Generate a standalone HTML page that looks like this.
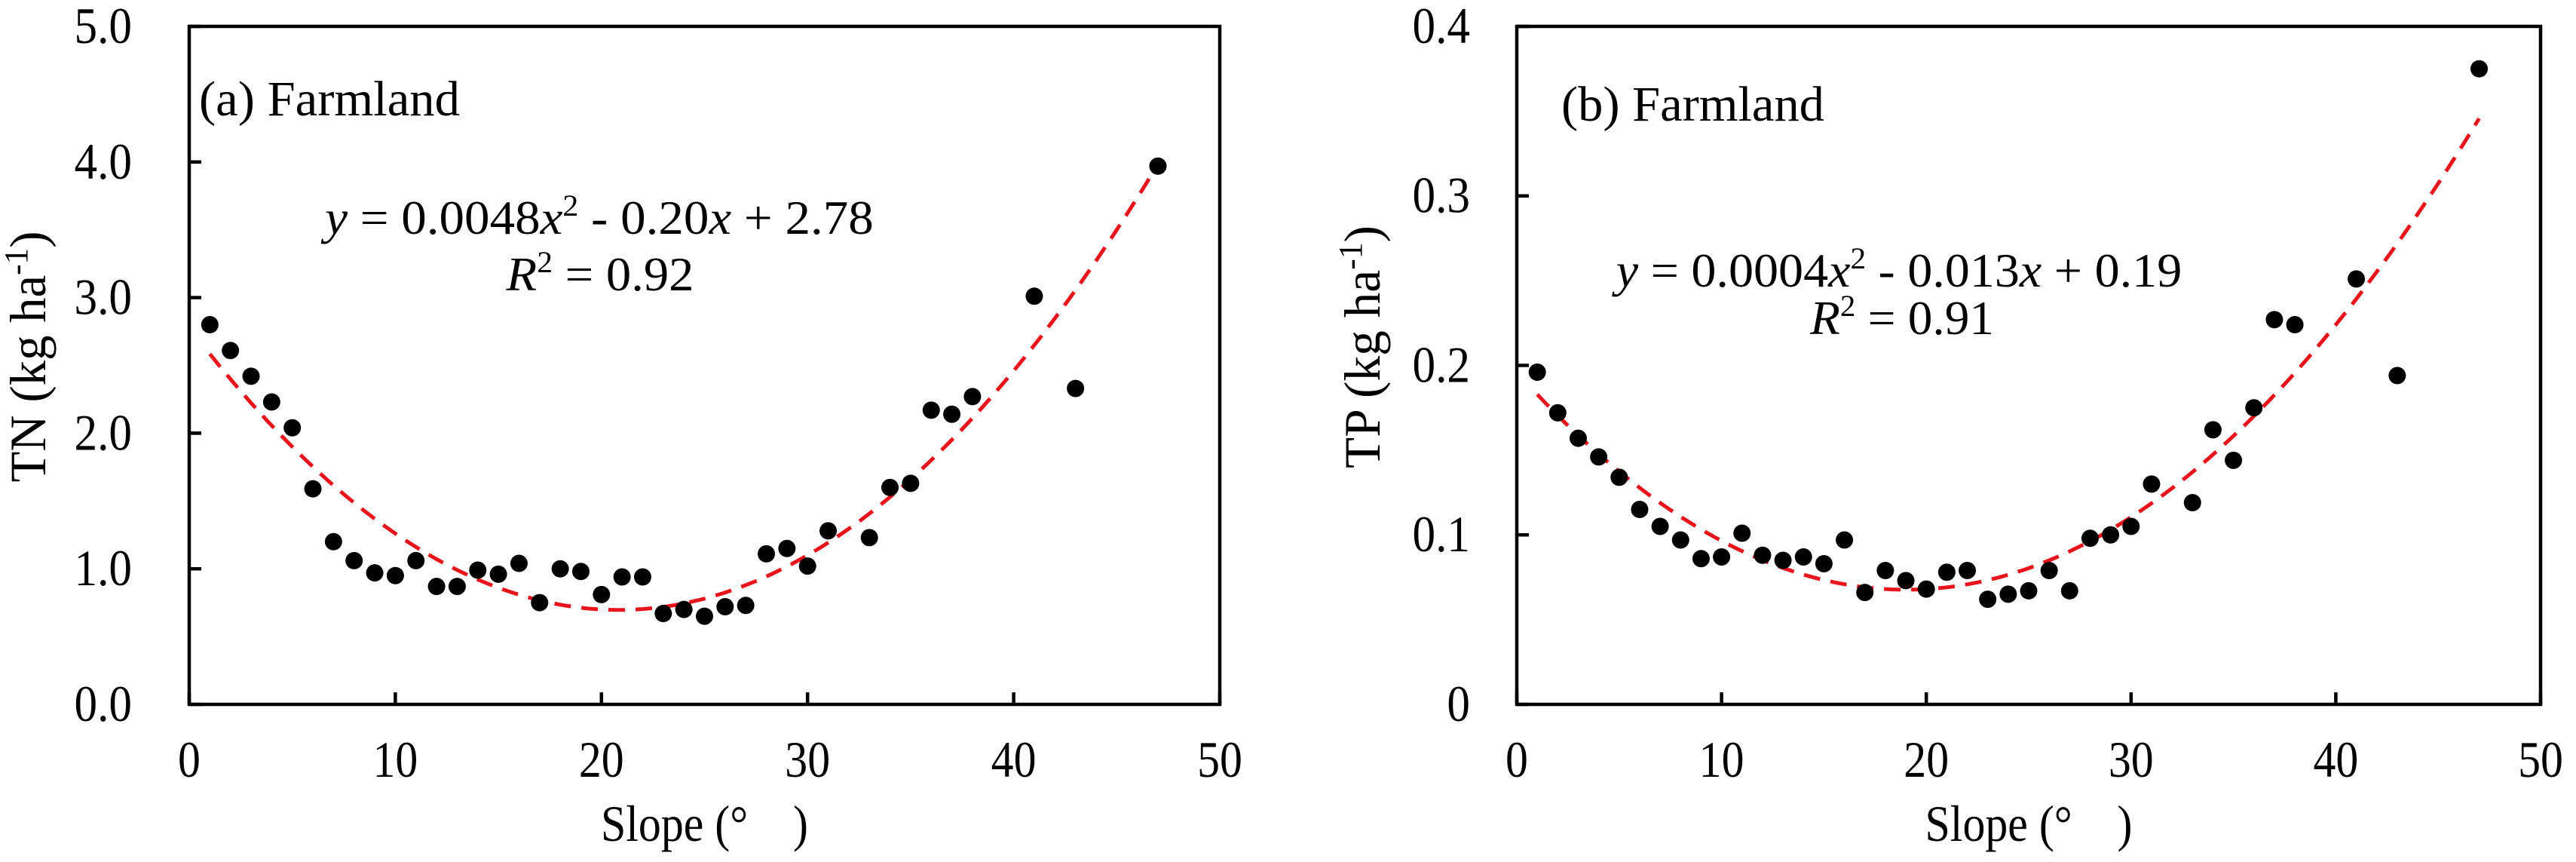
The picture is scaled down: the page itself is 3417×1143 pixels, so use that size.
<!DOCTYPE html>
<html><head><meta charset="utf-8"><style>
html,body{margin:0;padding:0;background:#fff}
svg{display:block}
text{font-family:"Liberation Serif",serif;fill:#000}
</style></head><body>
<svg id="svg" width="3417" height="1143" viewBox="0 0 3417 1143"></svg>
<script>
const slopes=[1,2,3,4,5,6,7,8,9,10,11,12,13,14,15,16,17,18,19,20,21,22,23,24,25,26,27,28,29,30,31,33,34,35,36,37,38,41,43,47];
const tnValues=[2.80,2.61,2.42,2.23,2.04,1.59,1.20,1.06,0.97,0.95,1.06,0.87,0.87,0.99,0.96,1.04,0.75,1.00,0.98,0.81,0.94,0.94,0.67,0.70,0.65,0.72,0.73,1.11,1.15,1.02,1.28,1.23,1.60,1.63,2.17,2.14,2.27,3.01,2.33,3.97];
const tpValues=[0.196,0.172,0.157,0.146,0.134,0.115,0.105,0.097,0.086,0.087,0.101,0.088,0.085,0.087,0.083,0.097,0.066,0.079,0.073,0.068,0.078,0.079,0.062,0.065,0.067,0.079,0.067,0.098,0.100,0.105,0.130,0.119,0.162,0.144,0.175,0.227,0.224,0.251,0.194,0.375];
const tnFit=[0.0048,-0.20,2.78];
const tpFit=[0.000355,-0.0135,0.196];
const xTicks=[0,10,20,30,40,50];
const tnTicks=[0,1,2,3,4,5];
const tnTickLabels=["0.0","1.0","2.0","3.0","4.0","5.0"];
const tpTicks=[0,0.1,0.2,0.3,0.4];
const tpTickLabels=["0","0.1","0.2","0.3","0.4"];

const NS="http://www.w3.org/2000/svg";
const svg=document.getElementById('svg');
function mk(tag,attrs,parent,txt){const e=document.createElementNS(NS,tag);for(const k in attrs)e.setAttribute(k,attrs[k]);if(txt!==undefined)e.textContent=txt;(parent||svg).appendChild(e);return e;}
function squeeze(el,ax,s){el.setAttribute('transform',`translate(${ax},0) scale(${s},1) translate(${-ax},0)`);}
function fitW(el,ax,w){const b=el.getBBox();squeeze(el,ax,w/b.width);}

function panel(cfg){
  const g=mk('g',{});
  
  
  const L=cfg.left,R=cfg.right,T=35,B=934;
  const xs=v=>L+(v-0)/(50-0)*(R-L);
  const ys=v=>B-(v-cfg.ymin)/(cfg.ymax-cfg.ymin)*(B-T);
  let d='';
  for(let x=1;x<=47.001;x+=0.25){const y=cfg.fit[0]*x*x+cfg.fit[1]*x+cfg.fit[2];d+=(d?'L':'M')+xs(x).toFixed(1)+','+ys(y).toFixed(1);}
  const c=mk('path',{d:d,fill:'none',stroke:'#e8141c','stroke-width':5,'stroke-dasharray':'22,14'},g);
  
  
  slopes.forEach((s,i)=>{
    const p=mk('circle',{cx:xs(s),cy:ys(cfg.values[i]),r:11.5,fill:'#000'},g);
    
    
  });
  const f=mk('rect',{x:L,y:T,width:R-L,height:B-T,fill:'none',stroke:'#000','stroke-width':4.5},g);
  
  
  xTicks.forEach(v=>{
    mk('line',{x1:xs(v),x2:xs(v),y1:B,y2:B-16,stroke:'#000','stroke-width':4.5},g);
    const t=mk('text',{x:xs(v),y:1030,'text-anchor':'middle','font-size':68},g,String(v));
    
    
    squeeze(t,xs(v),0.88);
  });
  cfg.ticks.forEach((v,i)=>{
    mk('line',{x1:L,x2:L+16,y1:ys(v),y2:ys(v),stroke:'#000','stroke-width':4.5},g);
    const t=mk('text',{x:cfg.ylabX,y:ys(v)+22,'text-anchor':'end','font-size':68},g,cfg.tickLabels[i]);
    
    
    squeeze(t,cfg.ylabX,0.9);
  });
  const xt=mk('text',{x:(L+R)/2,y:1115,'text-anchor':'middle','font-size':68},g,'Slope (°\u2003)');
  
  
  fitW(xt,(L+R)/2,275);
  const yt=mk('text',{x:0,y:0,'text-anchor':'middle','font-size':68},g);
  
  
  yt.appendChild(document.createTextNode(cfg.ytitle+' (kg ha'));
  mk('tspan',{'font-size':44,dy:-24},yt,'-1');
  mk('tspan',{dy:24},yt,')');
  const yb=yt.getBBox();
  yt.setAttribute('transform',`translate(${cfg.ytX},${cfg.ytY}) rotate(-90) scale(${cfg.ytLen/yb.width},1)`);
  const lab=mk('text',{x:cfg.labX,y:cfg.labY,'font-size':66},g,cfg.label);
  
  
  fitW(lab,cfg.labX,cfg.labW);
  const eq=mk('text',{x:cfg.eqX,y:cfg.eqY,'text-anchor':'middle','font-size':64},g);
  
  
  mk('tspan',{'font-style':'italic'},eq,'y');
  eq.appendChild(document.createTextNode(' = '+cfg.eq[0]));
  mk('tspan',{'font-style':'italic'},eq,'x');
  mk('tspan',{'font-size':40,dy:-24},eq,'2');
  mk('tspan',{dy:24},eq,' - '+cfg.eq[1]);
  mk('tspan',{'font-style':'italic'},eq,'x');
  eq.appendChild(document.createTextNode(' + '+cfg.eq[2]));
  fitW(eq,cfg.eqX,cfg.eqW);
  const r2=mk('text',{x:cfg.r2X,y:cfg.r2Y,'text-anchor':'middle','font-size':64},g);
  
  
  mk('tspan',{'font-style':'italic'},r2,'R');
  mk('tspan',{'font-size':40,dy:-24},r2,'2');
  mk('tspan',{dy:24},r2,' = '+cfg.r2);
  fitW(r2,cfg.r2X,cfg.r2W);
}
panel({name:'tn-chart',left:251,right:1618,ymin:0,ymax:5,values:tnValues,fit:tnFit,ticks:tnTicks,tickLabels:tnTickLabels,ylabX:175,ytitle:'TN',ytX:60,ytY:473,ytLen:333,label:'(a) Farmland',labX:264,labY:153,labW:346,eqX:795,eqY:310,eqW:734,r2X:796,r2Y:385,r2W:250,eq:['0.0048','0.20','2.78'],r2:'0.92'});
panel({name:'tp-chart',left:2012,right:3370,ymin:0,ymax:0.4,values:tpValues,fit:tpFit,ticks:tpTicks,tickLabels:tpTickLabels,ylabX:1950,ytitle:'TP',ytX:1830,ytY:460,ytLen:322,label:'(b) Farmland',labX:2071,labY:160,labW:349,eqX:2519,eqY:380,eqW:757,r2X:2523,r2Y:443,r2W:245,eq:['0.0004','0.013','0.19'],r2:'0.91'});
</script>
</body></html>
